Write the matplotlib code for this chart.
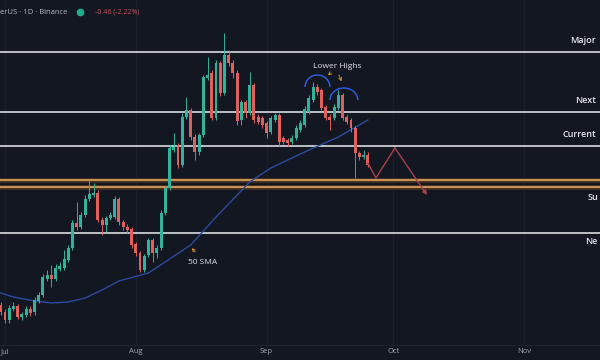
import matplotlib
matplotlib.use("Agg")
import matplotlib.pyplot as plt
import matplotlib.dates as mdates
from matplotlib.patches import Arc
from matplotlib.lines import Line2D
import numpy as np
import pandas as pd

plt.rcParams['font.family'] = ['Open Sans', 'DejaVu Sans']

# ---------------- data ----------------
start_date = "2024-06-30"
opens = [13.05, 12.70, 12.30, 12.85, 13.00, 12.45, 12.55, 12.85, 12.70, 13.25,
         13.55, 14.35, 14.55, 14.35, 14.85, 14.90, 15.30, 15.90, 17.15, 16.95,
         17.55, 18.35, 18.55, 18.65, 17.30, 17.05, 17.40, 17.45, 18.35, 17.20,
         16.95, 16.85, 16.10, 15.65, 14.80, 15.55, 16.30, 15.65, 15.90, 17.65,
         18.90, 20.80, 21.05, 20.05, 22.45, 22.80, 21.45, 20.70, 21.55, 24.40,
         24.65, 22.40, 25.15, 23.65, 25.55, 25.15, 24.65, 22.30, 23.20, 22.65,
         24.05, 22.45, 22.40, 22.15, 21.70, 22.30, 22.55, 21.40, 21.30, 21.20,
         21.40, 21.80, 22.05, 22.70, 23.30, 23.95, 23.80, 22.95, 22.45, 22.40,
         22.90, 23.55, 22.45, 22.30, 21.90, 20.65, 20.45, 20.55]
closes = [12.70, 12.30, 12.90, 13.00, 12.45, 12.60, 12.85, 12.65, 13.30, 13.55,
          14.45, 14.55, 14.35, 14.90, 15.00, 15.35, 15.90, 17.15, 16.95, 17.55,
          18.35, 18.60, 18.65, 17.30, 17.05, 17.40, 17.55, 18.35, 17.20, 16.95,
          16.80, 16.05, 15.65, 14.80, 15.50, 16.30, 15.65, 15.90, 17.65, 18.90,
          20.90, 20.95, 20.05, 22.45, 22.80, 21.45, 20.70, 21.55, 24.45, 24.55,
          22.40, 25.15, 23.65, 25.55, 25.15, 24.65, 22.25, 23.20, 22.65, 24.05,
          22.30, 22.20, 22.05, 21.65, 22.40, 22.55, 21.20, 21.20, 21.15, 21.40,
          21.90, 22.15, 22.85, 23.40, 23.95, 23.70, 22.90, 22.40, 22.30, 22.95,
          23.55, 22.40, 22.20, 21.90, 20.65, 20.45, 20.55, 20.05]
highs = [13.20, 12.85, 13.05, 13.20, 13.10, 12.70, 13.00, 13.00, 13.45, 13.70,
         14.60, 14.80, 15.05, 15.10, 15.20, 15.80, 16.05, 17.30, 18.20, 17.70,
         18.55, 19.30, 19.15, 18.80, 17.45, 17.50, 17.70, 18.50, 18.45, 17.30,
         17.10, 16.95, 16.20, 15.75, 15.60, 16.40, 16.40, 16.05, 17.80, 19.00,
         21.05, 21.65, 21.15, 22.65, 23.45, 22.90, 21.60, 21.65, 24.55, 25.45,
         24.80, 25.30, 25.25, 26.65, 25.80, 25.30, 24.80, 23.30, 23.30, 24.70,
         24.15, 22.60, 22.50, 22.25, 22.50, 22.65, 22.65, 21.50, 21.40, 21.55,
         22.05, 22.30, 23.00, 23.55, 24.20, 24.10, 23.90, 23.05, 22.60, 23.10,
         23.80, 23.65, 22.55, 22.40, 22.00, 20.75, 20.80, 20.70]
lows = [12.55, 12.15, 12.15, 12.75, 12.35, 12.30, 12.45, 12.50, 12.55, 13.15,
        13.45, 14.25, 13.95, 14.25, 14.75, 14.80, 15.20, 15.80, 16.80, 16.85,
        17.45, 18.25, 18.45, 17.20, 16.55, 16.70, 17.30, 17.35, 17.05, 16.80,
        16.65, 15.90, 15.50, 14.70, 14.70, 15.45, 15.20, 15.40, 15.80, 17.55,
        18.80, 20.70, 19.90, 19.95, 22.35, 21.30, 20.30, 20.55, 21.45, 24.30,
        22.30, 22.30, 23.50, 23.55, 25.00, 24.40, 22.05, 22.05, 22.40, 22.55,
        22.15, 22.10, 21.90, 21.40, 21.60, 22.20, 21.00, 21.10, 21.00, 21.10,
        21.30, 21.70, 21.95, 22.60, 23.20, 23.55, 22.80, 22.30, 21.80, 22.30,
        22.80, 22.30, 22.10, 21.70, 19.40, 20.30, 20.35, 19.95]

sma_day = [-1, 2, 7, 11, 15, 19, 23, 27, 34, 39, 44, 50, 58, 63, 71, 79, 86]
sma_val = [13.65, 13.45, 13.25, 13.15, 13.20, 13.40, 13.80, 14.25, 14.65, 15.35,
           16.05, 17.45, 19.20, 19.90, 20.70, 21.45, 22.30]

level_names = ["Major", "Next", "Current"]
level_vals = [25.70, 22.70, 21.00]
support_band = [19.30, 18.95]
support_label = "Su"
next_support = 16.65
next_support_label = "Ne"

proj_day = [86.0, 87.9, 92.4, 100.0]
proj_val = [20.15, 19.40, 20.90, 18.55]

month_ticks = ["2024-07-01", "2024-08-01", "2024-09-01", "2024-10-01", "2024-11-01"]
month_labels = ["Jul", "Aug", "Sep", "Oct", "Nov"]

# ---------------- drawing ----------------
BG = "#131722"
GREEN = "#2fb39c"
RED = "#e2605c"

fig = plt.figure(figsize=(6, 3.6), dpi=100, facecolor=BG)
ax = fig.add_axes([0, 15 / 360, 1, 345 / 360], facecolor=BG)

dates = pd.date_range(start_date, periods=len(opens), freq="D")
x = mdates.date2num(dates)
base = mdates.date2num(pd.Timestamp("2024-07-01"))

o = np.array(opens); c = np.array(closes); h = np.array(highs); l = np.array(lows)
up = c >= o
cols = np.where(up, GREEN, RED)

# month grid
for t in month_ticks:
    ax.axvline(mdates.date2num(pd.Timestamp(t)), color="#1b1f2b", lw=0.8, zorder=0)

# levels
for v in level_vals:
    ax.axhline(v, color="#c9ccd3", lw=1.3, zorder=1)
ax.axhline(next_support, color="#c9ccd3", lw=1.3, zorder=1)
for v in support_band:
    ax.axhline(v, color="#4a3220", lw=3.4, zorder=1)
    ax.axhline(v, color="#f0b068", lw=1.1, zorder=1.1)

# SMA
ax.plot(base + np.array(sma_day), sma_val, color="#2c4b9e", lw=1.0, zorder=2)

# candles
ax.vlines(x, l, h, colors=cols, lw=0.7, zorder=3)
body = np.maximum(np.abs(c - o), 0.04)
ax.bar(x, body, bottom=np.minimum(o, c), width=0.7, color=cols, lw=0, zorder=4)

# projection
px = base + np.array(proj_day)
ax.plot(px[:-1], proj_val[:-1], color="#a8414b", lw=1.0, zorder=5)
ax.annotate("", xy=(px[-1], proj_val[-1]), xytext=(px[-2], proj_val[-2]),
            arrowprops=dict(arrowstyle="-|>", color="#a8414b", lw=1.0,
                            mutation_scale=6, shrinkA=0, shrinkB=0), zorder=5)

# lower highs arcs (anchored on the two peak candles)
peak1, peak2 = 74, 80
for pk, dx, dy, w in [(peak1, 1.05, -0.25, 5.9), (peak2, 1.3, -0.5, 6.6)]:
    arc = Arc((x[pk] + dx, h[pk] + dy), w, 1.2, theta1=0, theta2=180,
              color="#2f62e8", lw=1.0, zorder=6)
    ax.add_patch(arc)
ax.text(base + 78.7, 24.95, "Lower Highs", color="#e0e3eb", fontsize=6,
        ha="center", va="center", zorder=7)
ax.annotate("", xy=(base + 76.0, 24.45), xytext=(base + 77.6, 24.72),
            arrowprops=dict(arrowstyle="->", color="#c8893a", lw=0.7, mutation_scale=5))
ax.annotate("", xy=(base + 80.0, 24.1), xytext=(base + 78.9, 24.68),
            arrowprops=dict(arrowstyle="->", color="#c8893a", lw=0.7, mutation_scale=5))

# 50 SMA label
ax.text(base + 43.4, 15.2, "50 SMA", color="#e0e3eb", fontsize=6,
        ha="left", va="center", zorder=7)
ax.annotate("", xy=(base + 43.8, 16.0), xytext=(base + 45.5, 15.6),
            arrowprops=dict(arrowstyle="->", color="#c8893a", lw=0.7, mutation_scale=5))

# axis limits
ax.set_xlim(base - 1.18, base + 141.0)
ax.set_ylim(28.3 - 345 / 20, 28.3)

# level labels
for name, v in zip(level_names, level_vals):
    ax.annotate(name, xy=(1.0, v), xycoords=("axes fraction", "data"),
                xytext=(-3, 5), textcoords="offset points", ha="right", va="bottom",
                color="#e6e8ee", fontsize=6.5, fontweight="semibold")
ax.annotate(support_label, xy=(1.0, min(support_band)), xycoords=("axes fraction", "data"),
            xytext=(-1.5, -4), textcoords="offset points", ha="right", va="top",
            color="#e6e8ee", fontsize=6.5, fontweight="semibold")
ax.annotate(next_support_label, xy=(1.0, next_support), xycoords=("axes fraction", "data"),
            xytext=(-1.5, -3), textcoords="offset points", ha="right", va="top",
            color="#e6e8ee", fontsize=6.5, fontweight="semibold")

# ticks
ax.set_xticks([mdates.date2num(pd.Timestamp(t)) for t in month_ticks])
ax.set_xticklabels(month_labels, color="#a3a6af", fontsize=5.5)
ax.tick_params(axis="x", length=0, pad=2.5)
ax.set_yticks([])
for s in ["top", "left", "right"]:
    ax.spines[s].set_visible(False)
ax.spines["bottom"].set_color("#232734")
ax.spines["bottom"].set_linewidth(0.6)

# header
fig.text(0 / 600, 1 - 12 / 360, "erUS · 1D · Binance", color="#b8bbc4", fontsize=5.5,
         ha="left", va="center")
fig.add_artist(Line2D([80 / 600], [1 - 12 / 360], transform=fig.transFigure,
                      marker="o", markersize=4.5, color="#1fae8c", linestyle="none"))
fig.text(95 / 600, 1 - 12 / 360, "-0.46 (-2.22%)", color="#c9505a", fontsize=5,
         ha="left", va="center")

fig.savefig("out.png", dpi=100, facecolor=BG)
